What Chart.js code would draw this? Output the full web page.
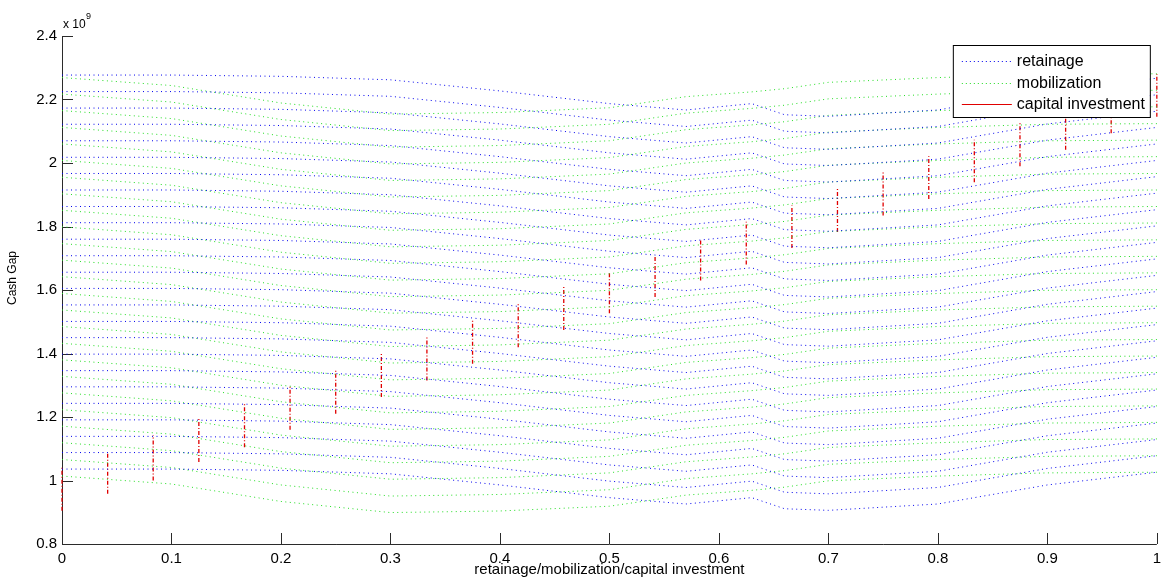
<!DOCTYPE html>
<html>
<head>
<meta charset="utf-8">
<script src="https://cdn.jsdelivr.net/npm/chart.js@4.4.1/dist/chart.umd.min.js"></script>
<style>
  html, body { margin: 0; padding: 0; background: #ffffff; }
  #wrap { width: 1167px; height: 587px; position: relative; }
</style>
</head>
<body>
<div id="wrap"><canvas id="c" width="1167" height="587"></canvas></div>
<script>
// Share of retainage / mobilization (x positions of the sweep curves)
const sharePoints = [0, 0.1, 0.2, 0.3, 0.4, 0.5, 0.57, 0.63, 0.66, 0.7, 0.8, 0.9, 1];

// Cash gap (x 10^9) versus retainage, one curve per capital-investment level
const ret00 = [1.036, 1.036, 1.032, 1.021, 0.986, 0.946, 0.926, 0.946, 0.911, 0.906, 0.926, 0.986, 1.026];
const ret01 = [1.088, 1.088, 1.084, 1.073, 1.038, 0.998, 0.978, 0.998, 0.963, 0.958, 0.978, 1.038, 1.078];
const ret02 = [1.139, 1.139, 1.135, 1.124, 1.089, 1.049, 1.029, 1.049, 1.014, 1.009, 1.029, 1.089, 1.129];
const ret03 = [1.191, 1.191, 1.187, 1.176, 1.141, 1.101, 1.081, 1.101, 1.066, 1.061, 1.081, 1.141, 1.181];
const ret04 = [1.243, 1.243, 1.239, 1.228, 1.193, 1.153, 1.133, 1.153, 1.118, 1.113, 1.133, 1.193, 1.233];
const ret05 = [1.295, 1.295, 1.291, 1.280, 1.245, 1.205, 1.185, 1.205, 1.170, 1.165, 1.185, 1.245, 1.285];
const ret06 = [1.346, 1.346, 1.342, 1.331, 1.296, 1.256, 1.236, 1.256, 1.221, 1.216, 1.236, 1.296, 1.336];
const ret07 = [1.398, 1.398, 1.394, 1.383, 1.348, 1.308, 1.288, 1.308, 1.273, 1.268, 1.288, 1.348, 1.388];
const ret08 = [1.450, 1.450, 1.446, 1.435, 1.400, 1.360, 1.340, 1.360, 1.325, 1.320, 1.340, 1.400, 1.440];
const ret09 = [1.501, 1.501, 1.497, 1.486, 1.451, 1.411, 1.391, 1.411, 1.376, 1.371, 1.391, 1.451, 1.491];
const ret10 = [1.553, 1.553, 1.549, 1.538, 1.503, 1.463, 1.443, 1.463, 1.428, 1.423, 1.443, 1.503, 1.543];
const ret11 = [1.605, 1.605, 1.601, 1.590, 1.555, 1.515, 1.495, 1.515, 1.480, 1.475, 1.495, 1.555, 1.595];
const ret12 = [1.656, 1.656, 1.652, 1.641, 1.606, 1.566, 1.546, 1.566, 1.531, 1.526, 1.546, 1.606, 1.646];
const ret13 = [1.708, 1.708, 1.704, 1.693, 1.658, 1.618, 1.598, 1.618, 1.583, 1.578, 1.598, 1.658, 1.698];
const ret14 = [1.760, 1.760, 1.756, 1.745, 1.710, 1.670, 1.650, 1.670, 1.635, 1.630, 1.650, 1.710, 1.750];
const ret15 = [1.812, 1.812, 1.808, 1.797, 1.762, 1.722, 1.702, 1.722, 1.687, 1.682, 1.702, 1.762, 1.802];
const ret16 = [1.863, 1.863, 1.859, 1.848, 1.813, 1.773, 1.753, 1.773, 1.738, 1.733, 1.753, 1.813, 1.853];
const ret17 = [1.915, 1.915, 1.911, 1.900, 1.865, 1.825, 1.805, 1.825, 1.790, 1.785, 1.805, 1.865, 1.905];
const ret18 = [1.967, 1.967, 1.963, 1.952, 1.917, 1.877, 1.857, 1.877, 1.842, 1.837, 1.857, 1.917, 1.957];
const ret19 = [2.018, 2.018, 2.014, 2.003, 1.968, 1.928, 1.908, 1.928, 1.893, 1.888, 1.908, 1.968, 2.008];
const ret20 = [2.070, 2.070, 2.066, 2.055, 2.020, 1.980, 1.960, 1.980, 1.945, 1.940, 1.960, 2.020, 2.060];
const ret21 = [2.122, 2.122, 2.118, 2.107, 2.072, 2.032, 2.012, 2.032, 1.997, 1.992, 2.012, 2.072, 2.112];
const ret22 = [2.173, 2.173, 2.169, 2.158, 2.123, 2.083, 2.063, 2.083, 2.048, 2.043, 2.063, 2.123, 2.163];
const ret23 = [2.225, 2.225, 2.221, 2.210, 2.175, 2.135, 2.115, 2.135, 2.100, 2.095, 2.115, 2.175, 2.215];
const ret24 = [2.277, 2.277, 2.273, 2.262, 2.227, 2.187, 2.167, 2.187, 2.152, 2.147, 2.167, 2.227, 2.267];

// Cash gap (x 10^9) versus mobilization, one curve per capital-investment level
const mob00 = [1.014, 0.989, 0.934, 0.899, 0.904, 0.919, 0.954, 0.969, 0.979, 0.999, 1.014, 1.024, 1.026];
const mob01 = [1.066, 1.041, 0.986, 0.951, 0.956, 0.971, 1.006, 1.021, 1.031, 1.051, 1.066, 1.076, 1.078];
const mob02 = [1.119, 1.094, 1.039, 1.004, 1.009, 1.024, 1.059, 1.074, 1.084, 1.104, 1.119, 1.129, 1.131];
const mob03 = [1.171, 1.146, 1.091, 1.056, 1.061, 1.076, 1.111, 1.126, 1.136, 1.156, 1.171, 1.181, 1.183];
const mob04 = [1.223, 1.198, 1.143, 1.108, 1.113, 1.128, 1.163, 1.178, 1.188, 1.208, 1.223, 1.233, 1.235];
const mob05 = [1.276, 1.251, 1.196, 1.161, 1.166, 1.181, 1.216, 1.231, 1.241, 1.261, 1.276, 1.286, 1.288];
const mob06 = [1.328, 1.303, 1.248, 1.213, 1.218, 1.233, 1.268, 1.283, 1.293, 1.313, 1.328, 1.338, 1.340];
const mob07 = [1.380, 1.355, 1.300, 1.265, 1.270, 1.285, 1.320, 1.335, 1.345, 1.365, 1.380, 1.390, 1.392];
const mob08 = [1.432, 1.407, 1.352, 1.317, 1.322, 1.337, 1.372, 1.387, 1.397, 1.417, 1.432, 1.442, 1.444];
const mob09 = [1.485, 1.460, 1.405, 1.370, 1.375, 1.390, 1.425, 1.440, 1.450, 1.470, 1.485, 1.495, 1.497];
const mob10 = [1.537, 1.512, 1.457, 1.422, 1.427, 1.442, 1.477, 1.492, 1.502, 1.522, 1.537, 1.547, 1.549];
const mob11 = [1.589, 1.564, 1.509, 1.474, 1.479, 1.494, 1.529, 1.544, 1.554, 1.574, 1.589, 1.599, 1.601];
const mob12 = [1.642, 1.617, 1.562, 1.527, 1.532, 1.547, 1.582, 1.597, 1.607, 1.627, 1.642, 1.652, 1.654];
const mob13 = [1.694, 1.669, 1.614, 1.579, 1.584, 1.599, 1.634, 1.649, 1.659, 1.679, 1.694, 1.704, 1.706];
const mob14 = [1.746, 1.721, 1.666, 1.631, 1.636, 1.651, 1.686, 1.701, 1.711, 1.731, 1.746, 1.756, 1.758];
const mob15 = [1.799, 1.774, 1.719, 1.684, 1.689, 1.704, 1.739, 1.754, 1.764, 1.784, 1.799, 1.809, 1.811];
const mob16 = [1.851, 1.826, 1.771, 1.736, 1.741, 1.756, 1.791, 1.806, 1.816, 1.836, 1.851, 1.861, 1.863];
const mob17 = [1.903, 1.878, 1.823, 1.788, 1.793, 1.808, 1.843, 1.858, 1.868, 1.888, 1.903, 1.913, 1.915];
const mob18 = [1.955, 1.930, 1.875, 1.840, 1.845, 1.860, 1.895, 1.910, 1.920, 1.940, 1.955, 1.965, 1.967];
const mob19 = [2.008, 1.983, 1.928, 1.893, 1.898, 1.913, 1.948, 1.963, 1.973, 1.993, 2.008, 2.018, 2.020];
const mob20 = [2.060, 2.035, 1.980, 1.945, 1.950, 1.965, 2.000, 2.015, 2.025, 2.045, 2.060, 2.070, 2.072];
const mob21 = [2.112, 2.087, 2.032, 1.997, 2.002, 2.017, 2.052, 2.067, 2.077, 2.097, 2.112, 2.122, 2.124];
const mob22 = [2.165, 2.140, 2.085, 2.050, 2.055, 2.070, 2.105, 2.120, 2.130, 2.150, 2.165, 2.175, 2.177];
const mob23 = [2.217, 2.192, 2.137, 2.102, 2.107, 2.122, 2.157, 2.172, 2.182, 2.202, 2.217, 2.227, 2.229];
const mob24 = [2.269, 2.244, 2.189, 2.154, 2.159, 2.174, 2.209, 2.224, 2.234, 2.254, 2.269, 2.279, 2.281];

// Capital investment levels and the cash-gap range (x 10^9) reached at each level
const capitalLevels = [0, 0.0417, 0.0833, 0.125, 0.1667, 0.2083, 0.25, 0.2917, 0.3333, 0.375, 0.4167, 0.4583,
                       0.5, 0.5417, 0.5833, 0.625, 0.6667, 0.7083, 0.75, 0.7917, 0.8333, 0.875, 0.9167, 0.9583, 1];
const capitalLow  = [0.905, 0.958, 1.000, 1.058, 1.105, 1.160, 1.210, 1.263, 1.315, 1.368, 1.420, 1.474,
                     1.527, 1.578, 1.630, 1.680, 1.732, 1.783, 1.835, 1.887, 1.939, 1.990, 2.042, 2.094, 2.146];
const capitalHigh = [1.040, 1.090, 1.143, 1.195, 1.245, 1.298, 1.348, 1.400, 1.452, 1.507, 1.559, 1.610,
                     1.657, 1.710, 1.762, 1.815, 1.866, 1.918, 1.970, 2.021, 2.073, 2.125, 2.176, 2.228, 2.280];

// Axis ticks
const xTicks = [0, 0.1, 0.2, 0.3, 0.4, 0.5, 0.6, 0.7, 0.8, 0.9, 1];
const yTicks = [0.8, 1.0, 1.2, 1.4, 1.6, 1.8, 2.0, 2.2, 2.4];

const retainageCurves = [ret00, ret01, ret02, ret03, ret04, ret05, ret06, ret07, ret08, ret09, ret10, ret11, ret12,
                         ret13, ret14, ret15, ret16, ret17, ret18, ret19, ret20, ret21, ret22, ret23, ret24];
const mobilizationCurves = [mob00, mob01, mob02, mob03, mob04, mob05, mob06, mob07, mob08, mob09, mob10, mob11, mob12,
                            mob13, mob14, mob15, mob16, mob17, mob18, mob19, mob20, mob21, mob22, mob23, mob24];

const BLUE = '#0000ee';
const GREEN = '#22dd22';
const RED = '#e00000';
const AXIS = '#2b2b2b';
const FONT = '"Liberation Sans", Arial, Helvetica, sans-serif';

const datasets = [];
retainageCurves.forEach(ys => {
  datasets.push({
    label: 'retainage',
    data: sharePoints.map((x, j) => ({ x, y: ys[j] })),
    borderColor: BLUE, borderWidth: 1, borderDash: [1, 3.5],
    pointRadius: 0, showLine: true, fill: false, tension: 0, clip: false
  });
});
mobilizationCurves.forEach(ys => {
  datasets.push({
    label: 'mobilization',
    data: sharePoints.map((x, j) => ({ x, y: ys[j] })),
    borderColor: GREEN, borderWidth: 1, borderDash: [1, 3.5],
    pointRadius: 0, showLine: true, fill: false, tension: 0, clip: false
  });
});
capitalLevels.forEach((x, k) => {
  datasets.push({
    label: 'capital investment',
    data: [{ x, y: capitalLow[k] }, { x, y: capitalHigh[k] }],
    borderColor: RED, borderWidth: 1.3, borderDash: [4, 2, 1, 2],
    pointRadius: 0, showLine: true, fill: false, tension: 0, clip: false
  });
});

// Legend entries (sample style per series group)
const legendItems = [
  { text: 'retainage', color: BLUE, dash: [1, 3] },
  { text: 'mobilization', color: GREEN, dash: [1, 3] },
  { text: 'capital investment', color: RED, dash: [] }
];

const matlabAxes = {
  id: 'matlabAxes',
  beforeDatasetsDraw(chart) {
    const { ctx, chartArea: a, scales: { x, y } } = chart;
    ctx.save();
    ctx.strokeStyle = AXIS;
    ctx.lineWidth = 1;
    ctx.setLineDash([]);
    // axis lines
    ctx.beginPath();
    ctx.moveTo(a.left + 0.5, a.top);
    ctx.lineTo(a.left + 0.5, a.bottom + 0.5);
    ctx.lineTo(a.right, a.bottom + 0.5);
    ctx.stroke();
    // inward tick marks
    ctx.beginPath();
    yTicks.forEach(v => {
      const py = Math.round(y.getPixelForValue(v)) + 0.5;
      ctx.moveTo(a.left, py);
      ctx.lineTo(a.left + 11, py);
    });
    xTicks.forEach(v => {
      const px = Math.round(x.getPixelForValue(v)) + 0.5;
      ctx.moveTo(px, a.bottom);
      ctx.lineTo(px, a.bottom - 11);
    });
    ctx.stroke();
    // exponent label
    ctx.fillStyle = '#000';
    ctx.textBaseline = 'alphabetic';
    ctx.textAlign = 'left';
    ctx.font = '12px ' + FONT;
    ctx.fillText('x 10', a.left + 1, a.top - 8);
    ctx.font = '9px ' + FONT;
    ctx.fillText('9', a.left + 24, a.top - 17);
    // y-axis title
    ctx.save();
    ctx.translate(13, 278);
    ctx.rotate(-Math.PI / 2);
    ctx.textAlign = 'center';
    ctx.textBaseline = 'middle';
    ctx.font = '12px ' + FONT;
    ctx.fillText('Cash Gap', 0, 0);
    ctx.restore();
    ctx.restore();
  },
  afterDatasetsDraw(chart) {
    const { ctx, chartArea: a } = chart;
    ctx.save();
    // legend box
    const w = 197, h = 72;
    const lx = a.right - w - 7, ly = a.top + 9;
    ctx.fillStyle = '#ffffff';
    ctx.fillRect(lx, ly, w, h);
    ctx.strokeStyle = '#000';
    ctx.lineWidth = 1;
    ctx.strokeRect(lx + 0.5, ly + 0.5, w, h);
    ctx.font = '16px ' + FONT;
    ctx.textBaseline = 'middle';
    ctx.textAlign = 'left';
    legendItems.forEach((it, i) => {
      const ry = Math.round(ly + 16 + i * 21.5) + 0.5;
      ctx.strokeStyle = it.color;
      ctx.setLineDash(it.dash);
      ctx.beginPath();
      ctx.moveTo(lx + 9, ry);
      ctx.lineTo(lx + 59, ry);
      ctx.stroke();
      ctx.fillStyle = '#000';
      ctx.fillText(it.text, lx + 64, ry);
    });
    ctx.restore();
  }
};

const fmt = v => String(Math.round(v * 10) / 10);

new Chart(document.getElementById('c'), {
  type: 'scatter',
  data: { datasets },
  options: {
    responsive: false,
    devicePixelRatio: 1,
    animation: false,
    events: [],
    layout: { padding: { left: 0, right: 5, top: 36, bottom: 0 } },
    plugins: { legend: { display: false }, tooltip: { enabled: false } },
    scales: {
      x: {
        type: 'linear', min: 0, max: 1,
        afterBuildTicks: s => { s.ticks = xTicks.map(v => ({ value: v })); },
        afterFit: s => { s.height = 43; },
        grid: { display: false, drawTicks: false, tickLength: 0 },
        border: { display: false },
        ticks: { color: '#000', font: { family: FONT, size: 15 }, padding: 6, maxRotation: 0, autoSkip: false,
                 callback: v => fmt(v) },
        title: { display: true, text: 'retainage/mobilization/capital investment', color: '#000',
                 font: { family: FONT, size: 15 }, padding: { top: 0, bottom: 8 } }
      },
      y: {
        type: 'linear', min: 0.8, max: 2.4,
        afterBuildTicks: s => { s.ticks = yTicks.map(v => ({ value: v })); },
        afterFit: s => { s.width = 62; },
        grid: { display: false, drawTicks: false, tickLength: 0 },
        border: { display: false },
        ticks: { color: '#000', font: { family: FONT, size: 15 }, padding: 5, autoSkip: false,
                 callback: v => fmt(v) },
        title: { display: false }
      }
    }
  },
  plugins: [matlabAxes]
});
</script>
</body>
</html>
